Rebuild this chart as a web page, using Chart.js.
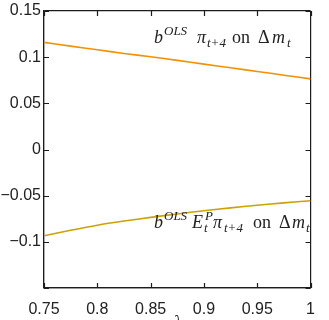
<!DOCTYPE html>
<html>
<head>
<meta charset="utf-8">
<script src="https://cdn.jsdelivr.net/npm/chart.js@4"></script>
<style>
body{margin:0;background:#fff;}
</style>
</head>
<body>
<canvas id="c" width="329" height="320"></canvas>
<script>
// data
const lambda = [0.75,0.775,0.8,0.825,0.85,0.875,0.9,0.925,0.95,0.975,1];
const bPi = [0.116,0.112,0.108,0.104,0.1005,0.0965,0.0925,0.0885,0.0845,0.0805,0.0765];
const bEPi = [-0.0935,-0.0875,-0.082,-0.0775,-0.0735,-0.0698,-0.0663,-0.0632,-0.0603,-0.0578,-0.0555];
const xTicks = [0.75,0.8,0.85,0.9,0.95,1];
const yTicks = [-0.15,-0.1,-0.05,0,0.05,0.1,0.15];

function fmt(v){
    let s = String(Number(v.toFixed(2)));
    return s.replace("-","\u2212");
}

const ink = "#1c1c1c";

// only the outermost grid lines are drawn, they make the box
function edgeColor(lo, hi){
    return c => (c.tick && (Math.abs(c.tick.value-lo)<1e-9 || Math.abs(c.tick.value-hi)<1e-9)) ? ink : "rgba(0,0,0,0)";
}

// inward ticks + math labels
const frame = {
    id:"frame",
    afterDraw(chart){
        const ctx = chart.ctx;
        const xs = chart.scales.x, ys = chart.scales.y;
        const L = xs.left, R = xs.right, T = ys.top, B = ys.bottom;
        ctx.save();
        ctx.strokeStyle = ink;
        ctx.lineWidth = 1.2;
        ctx.beginPath();
        xTicks.forEach(v=>{
            const x = Math.round(xs.getPixelForValue(v))+0.5;
            ctx.moveTo(x,B); ctx.lineTo(x,B-5);
            ctx.moveTo(x,T); ctx.lineTo(x,T+5);
        });
        yTicks.forEach(v=>{
            const y = Math.round(ys.getPixelForValue(v))+0.5;
            ctx.moveTo(L,y); ctx.lineTo(L+5,y);
            ctx.moveTo(R,y); ctx.lineTo(R-5,y);
        });
        ctx.stroke();

        ctx.fillStyle = "#222";
        ctx.textAlign = "left";
        ctx.textBaseline = "alphabetic";
        const big = "18px 'Liberation Serif'", bigI = "italic 18px 'Liberation Serif'";
        const smI = "italic 13px 'Liberation Serif'";
        // [text, x, font, dy]
        function put(y, parts){
            parts.forEach(p=>{
                ctx.font = p[2];
                ctx.fillText(p[0], p[1], y + (p[3]||0));
            });
        }
        put(43, [
            ["b",154,bigI],["OLS",164,smI,-8],["\u03c0",197,bigI],["t+4",207,smI,4],
            ["on",232,big],["\u0394",258,big],["m",272,bigI],["t",287,smI,4]
        ]);
        put(228, [
            ["b",154,bigI],["OLS",164,smI,-8],["E",192,bigI],["P",205,smI,-8],["t",204,smI,4],
            ["\u03c0",213,bigI],["t+4",224,smI,4],
            ["on",253,big],["\u0394",279,big],["m",292,bigI],["t",306,smI,4]
        ]);

        ctx.font = "italic 18px 'Liberation Serif'";
        ctx.textAlign = "center";
        ctx.textBaseline = "top";
        ctx.fillText("\u03bb", xs.getPixelForValue(0.875), 314);
        ctx.restore();
    }
};

const tickFont = {family:"Liberation Sans",size:16,lineHeight:1};

new Chart(document.getElementById("c"),{
    type:"line",
    data:{
        datasets:[
            {data:lambda.map((x,i)=>({x:x,y:bPi[i]})),borderColor:"#f39200",borderWidth:1.6,pointRadius:0,tension:0.3},
            {data:lambda.map((x,i)=>({x:x,y:bEPi[i]})),borderColor:"#cca200",borderWidth:1.6,pointRadius:0,tension:0.3}
        ]
    },
    options:{
        responsive:false,
        animation:false,
        devicePixelRatio:1,
        layout:{padding:{top:10,right:9,left:0,bottom:0}},
        plugins:{legend:{display:false},tooltip:{enabled:false}},
        scales:{
            x:{
                type:"linear",min:0.75,max:1,
                grid:{display:true,drawTicks:false,tickLength:0,lineWidth:1.2,color:edgeColor(0.75,1)},
                border:{display:true,color:ink,width:1.2},
                afterBuildTicks:s=>{s.ticks=xTicks.map(v=>({value:v}));},
                afterFit:s=>{s.height=32;},
                ticks:{color:"#222",font:tickFont,padding:14,callback:v=>fmt(v),maxRotation:0,autoSkip:false}
            },
            y:{
                min:-0.15,max:0.15,
                grid:{display:true,drawTicks:false,tickLength:0,lineWidth:1.2,color:edgeColor(-0.15,0.15)},
                border:{display:true,color:ink,width:1.2},
                afterBuildTicks:s=>{s.ticks=yTicks.map(v=>({value:v}));},
                afterFit:s=>{s.width=44;},
                ticks:{color:"#222",font:tickFont,padding:3,callback:v=>(Math.abs(v+0.15)<1e-9?"":fmt(v)),autoSkip:false}
            }
        }
    },
    plugins:[frame]
});
</script>
</body>
</html>
